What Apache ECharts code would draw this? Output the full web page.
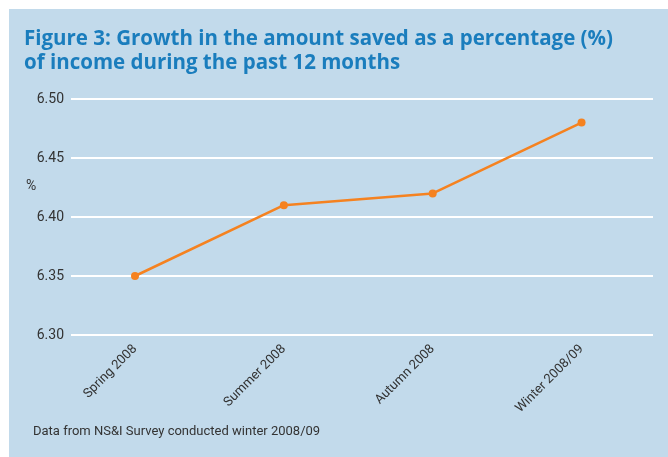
<!DOCTYPE html>
<html>
<head>
<meta charset="utf-8">
<script src="https://cdn.jsdelivr.net/npm/echarts@6/dist/echarts.min.js"></script>
<style>
html,body{margin:0;padding:0;background:#fff;}
#chart{width:668px;height:457px;}
</style>
</head>
<body>
<div id="chart"></div>
<script>
// Survey periods and the savings share of income (%)
const seasons = ['Spring 2008', 'Summer 2008', 'Autumn 2008', 'Winter 2008/09'];
const savedPct = [6.35, 6.41, 6.42, 6.48];
const yTicks = [6.30, 6.35, 6.40, 6.45, 6.50];

const titleLines = ['Figure 3: Growth in the amount saved as a percentage (%)', 'of income during the past 12 months'];
const sourceNote = 'Data from NS&I Survey conducted winter 2008/09';

const labelFont = "Roboto, 'Open Sans', sans-serif";

const chart = echarts.init(document.getElementById('chart'), null, {renderer: 'canvas'});

chart.setOption({
  animation: false,
  backgroundColor: '#ffffff',
  graphic: [
    {type: 'rect', z: -10, shape: {x: 9, y: 9, width: 659, height: 448}, style: {fill: '#c2daeb'}},
    {type: 'text', left: 24, top: 27, style: {
      text: titleLines.join('\n'), fill: '#1a7dbd',
      font: "bold 20.5px 'Open Sans', 'Noto Sans', sans-serif", lineHeight: 24
    }},
    {type: 'text', left: 26, top: 179, style: {text: '%', fill: '#333', font: '14px ' + labelFont}},
    {type: 'text', left: 33, top: 425, style: {text: sourceNote, fill: '#333', font: '13px ' + labelFont}}
  ],
  grid: {left: 71, right: 15, top: 99, height: 236, containLabel: false},
  xAxis: {
    type: 'value',
    min: -0.43, max: 3.48,
    splitLine: {show: false},
    axisLine: {show: false},
    axisTick: {show: false},
    axisLabel: {
      customValues: [0, 1, 2, 3],
      formatter: v => seasons[Math.round(v)],
      rotate: 45, margin: 12,
      color: '#333', fontSize: 13, fontFamily: labelFont
    }
  },
  yAxis: {
    type: 'value',
    min: 6.30, max: 6.50, interval: 0.05,
    axisLine: {show: false},
    axisTick: {show: false},
    splitLine: {lineStyle: {color: '#ffffff', width: 2}},
    axisLabel: {
      formatter: v => v.toFixed(2), margin: 7,
      color: '#333', fontSize: 14, fontFamily: labelFont
    }
  },
  series: [{
    type: 'line',
    data: savedPct.map((v, i) => [i, v]),
    lineStyle: {color: '#f58220', width: 2.5},
    itemStyle: {color: '#f58220'},
    symbol: 'circle', symbolSize: 8
  }]
});
</script>
</body>
</html>
